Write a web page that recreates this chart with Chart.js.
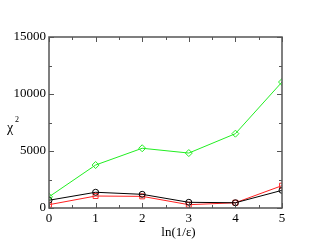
<!DOCTYPE html>
<html><head><meta charset="utf-8">
<script src="https://cdn.jsdelivr.net/npm/chart.js@4"></script>
<style>html,body{margin:0;padding:0;background:#fff}#w{width:317px;height:245px}</style>
</head><body><div id="w"><canvas id="c"></canvas></div>
<script>
const xValues = [0, 1, 2, 3, 4, 5];
const greenSeries = [980, 3770, 5240, 4820, 6520, 11050];
const blackSeries = [680, 1380, 1200, 500, 460, 1550];
const redSeries = [290, 1050, 1020, 290, 460, 1960];
const yTicks = [0, 5000, 10000, 15000];
const xTicks = [0, 1, 2, 3, 4, 5];
const FONT = "'Liberation Serif','Times New Roman',serif";

function pts(arr){ return arr.map((v,i)=>({x:xValues[i], y:v})); }

const framePlugin = {
  id:'frame',
  afterDatasetsDraw(chart){
    const {ctx, chartArea:a, scales:{x,y}} = chart;
    ctx.save();
    ctx.strokeStyle = '#555';
    ctx.lineWidth = 1.5;
    ctx.strokeRect(a.left, a.top, a.right-a.left, a.bottom-a.top);
    ctx.lineWidth = 1;
    ctx.beginPath();
    for(let v=0; v<=5.001; v+=0.5){
      const px = Math.round(x.getPixelForValue(v))+0.5;
      const len = (Math.abs(v-Math.round(v))<1e-6)?5:3;
      ctx.moveTo(px,a.bottom); ctx.lineTo(px,a.bottom-len);
      ctx.moveTo(px,a.top); ctx.lineTo(px,a.top+len);
    }
    for(let v=0; v<=15000; v+=2500){
      const py = Math.round(y.getPixelForValue(v))+0.5;
      const len = (v%5000===0)?5:3;
      ctx.moveTo(a.left,py); ctx.lineTo(a.left+len,py);
      ctx.moveTo(a.right,py); ctx.lineTo(a.right-len,py);
    }
    ctx.stroke();
    ctx.fillStyle = '#000';
    ctx.font = '13px '+FONT;
    ctx.textAlign='center'; ctx.textBaseline='alphabetic';
    ctx.fillText('ln(1/ε)', (a.left+a.right)/2+13, 236);
    ctx.textAlign='left';
    ctx.font = '14px '+FONT;
    ctx.fillText('χ', 7, 132);
    ctx.font = '8px '+FONT;
    ctx.fillText('2', 15, 122);
    ctx.restore();
  }
};

new Chart(document.getElementById('c'), {
  type:'line',
  data:{ datasets:[
    {data:pts(greenSeries), borderColor:'#22ee22', backgroundColor:'rgba(0,0,0,0)', borderWidth:1, pointStyle:'rectRot', pointRadius:3.5, pointBorderColor:'#22ee22', pointBorderWidth:1, tension:0},
    {data:pts(blackSeries), borderColor:'#000', backgroundColor:'rgba(0,0,0,0)', borderWidth:1, pointStyle:'circle', pointRadius:3, pointBorderColor:'#000', pointBorderWidth:1, tension:0},
    {data:pts(redSeries), borderColor:'#ff2020', backgroundColor:'rgba(0,0,0,0)', borderWidth:1, pointStyle:'rect', pointRadius:3.5, pointBorderColor:'#ff3030', pointBorderWidth:1, tension:0}
  ]},
  options:{
    responsive:true, maintainAspectRatio:false, animation:false,
    devicePixelRatio:1,
    layout:{padding:{left:0, right:35, top:37, bottom:0}},
    plugins:{legend:{display:false}, tooltip:{enabled:false}},
    scales:{
      x:{type:'linear', min:0, max:5,
        afterFit(s){ s.height = 37; },
        afterBuildTicks(s){ s.ticks = xTicks.map(v=>({value:v})); },
        grid:{display:false, drawTicks:false}, border:{display:false},
        ticks:{color:'#000', font:{family:FONT, size:13}, padding:3, maxRotation:0, callback:v=>String(v)}},
      y:{type:'linear', min:0, max:15000,
        afterFit(s){ s.width = 49; },
        afterBuildTicks(s){ s.ticks = yTicks.map(v=>({value:v})); },
        grid:{display:false, drawTicks:false}, border:{display:false},
        ticks:{color:'#000', font:{family:FONT, size:13}, padding:3, callback:v=>String(v)}}
    }
  },
  plugins:[framePlugin]
});
</script></body></html>
